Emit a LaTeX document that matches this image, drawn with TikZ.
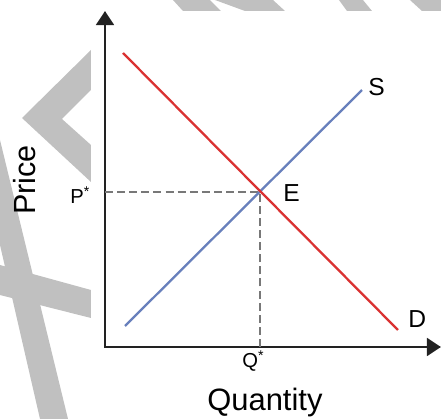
\documentclass[tikz,border=0pt]{standalone}
\usepackage{fontspec}
\setmainfont{Liberation Sans}
\usetikzlibrary{arrows.meta}
\definecolor{wmgray}{RGB}{192,192,192}
\definecolor{axisblack}{RGB}{34,34,34}
\definecolor{demandred}{RGB}{218,50,50}
\definecolor{supplyblue}{RGB}{104,128,188}
\definecolor{guidegray}{RGB}{120,120,120}

\begin{document}
\begin{tikzpicture}[x=0.02cm,y=-0.02cm,
  axis/.style={draw=axisblack,line width=1.7pt,line join=miter,
    {Triangle[length=8pt,width=10pt]}-{Triangle[length=8pt,width=10pt]}},
  curve/.style={line width=1.3pt},
  guide/.style={draw=guidegray,line width=1.1pt,dash pattern=on 4.5pt off 2.4pt},
  lbl/.style={inner sep=0pt,anchor=base west}]
\useasboundingbox (0,0) rectangle (441,419);
% watermark pieces
\fill[wmgray] (173,0) -- (210,0) -- (221,11) -- (183,11) -- cycle;
\fill[wmgray] (215,0) -- (273,0) -- (285,11) -- (245,11) -- cycle;
\fill[wmgray] (339,0) -- (363,0) -- (372,11) -- (347,11) -- cycle;
\fill[wmgray] (410,0) -- (441,0) -- (441,11) -- (422,11) -- cycle;
\fill[wmgray] (91,50) -- (22,118) -- (91,182) -- (91,145) -- (62,119) -- (91,90) -- cycle;
\fill[wmgray] (0,140) -- (68,419) -- (40,419) -- (0,245) -- cycle;
\fill[wmgray] (0,265) -- (91,290) -- (91,318) -- (0,295) -- cycle;
\fill[white] (92,11) rectangle (441,419);
% axes
\coordinate (O) at (105,347);
\coordinate (ytip) at (105,11);
\coordinate (xtip) at (441,347);
\draw[axis] (ytip) -- (O) -- (xtip);
% equilibrium guides
\coordinate (E) at (260,192);
\draw[guide] (O |- E) -- (E);
\draw[guide] (E |- O) -- (E);
% supply and demand
\coordinate (s1) at (125,326);
\coordinate (s2) at (362,90);
\coordinate (d1) at (123,53);
\coordinate (d2) at (398,330);
\draw[curve,supplyblue] (s1) -- (s2);
\draw[curve,demandred] (d1) -- (d2);
% labels
\node[lbl,font=\fontsize{14pt}{16pt}\selectfont] (slbl) at (368,96) {S};
\node[lbl,font=\fontsize{14pt}{16pt}\selectfont] (dlbl) at (408,328) {D};
\node[lbl,font=\fontsize{14pt}{16pt}\selectfont] (elbl) at (283,202) {E};
\node[lbl,font=\fontsize{11.5pt}{13pt}\selectfont] (plbl) at (70,204) {P\textsuperscript{*}};
\node[lbl,font=\fontsize{11.5pt}{13pt}\selectfont] (qlbl) at (242,368) {Q\textsuperscript{*}};
\node[lbl,font=\fontsize{17.6pt}{20pt}\selectfont] (qtitle) at (207,411) {Quantity};
\node[lbl,rotate=90,font=\fontsize{17.4pt}{20pt}\selectfont] (ptitle) at (35,215) {Price};
\end{tikzpicture}
\end{document}
